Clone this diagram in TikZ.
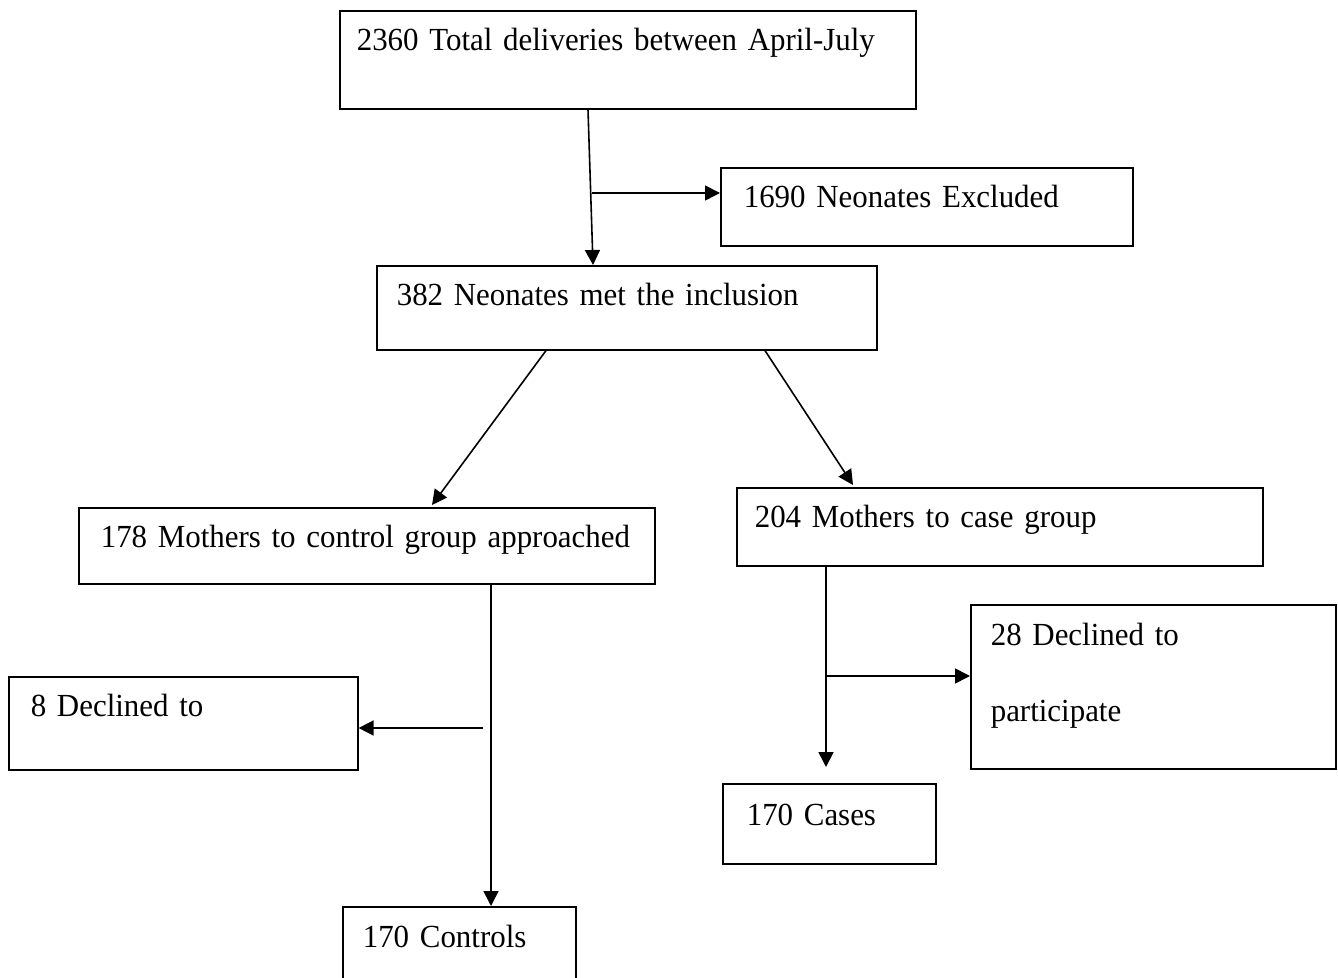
\documentclass[tikz,border=0pt]{standalone}
\usepackage{fontspec}
\setmainfont{Liberation Serif}[FakeStretch=0.96]
\usetikzlibrary{arrows.meta}

\begin{document}
\begin{tikzpicture}[x=0.5pt,y=-0.5pt,
	>={Triangle[length=7.5pt,width=7.5pt]},
	flow/.style={line width=0.8pt},
	box/.style={draw, line width=0.8pt, anchor=north west, align=left, inner ysep=0pt, text height=20pt, font=\fontsize{16.1}{19.3}\selectfont}]
	\useasboundingbox (0,0) rectangle (1338,978);
	\node[box, inner xsep=8.5pt, text width=271pt, text depth=29pt] (total) at (339,10) {2360 Total deliveries between April-July};
	\node[box, inner xsep=11.5pt, text width=183pt, text depth=19pt] (excluded) at (720,167) {1690 Neonates Excluded};
	\node[box, inner xsep=10pt, text width=230pt, text depth=22pt] (inclusion) at (376,265) {382 Neonates met the inclusion};
	\node[box, inner xsep=11pt, text width=266pt, text depth=18pt] (control) at (78,507) {178 Mothers to control group approached};
	\node[box, inner xsep=9pt, text width=245pt, text depth=19pt] (casegrp) at (736,487) {204 Mothers to case group};
	\node[box, inner xsep=11pt, text width=152.5pt, text depth=26.5pt] (declctrl) at (8,676) {8 Declined to};
	\node[box, inner xsep=10pt, text width=162.5pt, text height=20.5pt, text depth=61.5pt, font=\fontsize{16.1}{38}\selectfont] (declcase) at (970,604) {28 Declined to\\participate};
	\node[box, inner xsep=12pt, text width=82.5pt, text height=21pt, text depth=19pt] (cases) at (722,783) {170 Cases};
	\node[box, inner xsep=10pt, text width=96.5pt, text height=20.5pt, text depth=30pt] (controls) at (342,906) {170 Controls};
	\draw[flow,->] ([xshift=124.5pt]total.south west) -- ([xshift=108.5pt]inclusion.north west);
	\coordinate (split1) at (592,193);
	\draw[flow,->] (split1) -- (split1 -| excluded.west);
	\draw[flow,->] ([xshift=85pt]inclusion.south west) -- ([shift={(177pt,1pt)}]control.north west);
	\draw[flow,->] ([xshift=194.5pt]inclusion.south west) -- ([shift={(58.5pt,1pt)}]casegrp.north west);
	\draw[flow,->] ([xshift=206.5pt]control.south west) -- ([xshift=74.5pt]controls.north west);
	\coordinate (gap1) at (483,728);
	\draw[flow,->] (gap1) -- (gap1 -| declctrl.east);
	\draw[flow,->] ([xshift=45pt]casegrp.south west) -- ([shift={(52pt,8pt)}]cases.north west);
	\coordinate (split2) at (826,676);
	\draw[flow,->] (split2) -- (split2 -| declcase.west);
\end{tikzpicture}
\end{document}
